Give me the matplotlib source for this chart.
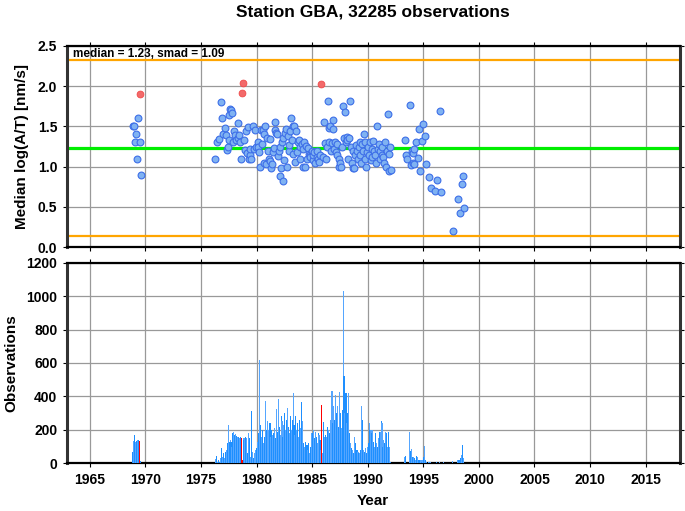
import matplotlib
matplotlib.use("Agg")
import matplotlib.pyplot as plt
import numpy as np

plt.rcParams['font.family'] = ['Liberation Sans', 'DejaVu Sans']
plt.rcParams['font.weight'] = 'bold'

# monthly median log(A/T), regular points
med_year = [1968.85, 1968.95, 1969.05, 1969.14, 1969.23, 1969.32, 1969.53, 1969.65,
            1976.28, 1976.43, 1976.58, 1976.79, 1976.88, 1977.00, 1977.15, 1977.24, 1977.33, 1977.42,
            1977.48, 1977.54, 1977.63, 1977.73, 1977.80, 1977.88,
            1978.00, 1978.08, 1978.17, 1978.29, 1978.37, 1978.44, 1978.53, 1978.59, 1978.83, 1978.92,
            1979.04, 1979.12, 1979.19, 1979.31, 1979.38, 1979.43, 1979.52, 1979.64, 1979.73, 1979.85, 1979.97,
            1980.09, 1980.17, 1980.24, 1980.27, 1980.39, 1980.47, 1980.57, 1980.65, 1980.70, 1980.78, 1980.87, 1980.95,
            1981.04, 1981.08, 1981.17, 1981.25, 1981.29, 1981.41, 1981.47, 1981.53, 1981.65, 1981.70, 1981.78,
            1981.85, 1981.92, 1981.98,
            1982.07, 1982.12, 1982.19, 1982.25, 1982.37, 1982.42, 1982.50, 1982.58, 1982.64, 1982.72, 1982.80,
            1982.88, 1982.95,
            1983.05, 1983.12, 1983.18, 1983.25, 1983.32, 1983.40, 1983.48, 1983.55, 1983.62, 1983.70, 1983.78,
            1983.88, 1983.95,
            1984.05, 1984.14, 1984.22, 1984.30, 1984.37, 1984.45, 1984.55, 1984.62, 1984.70, 1984.78, 1984.85, 1984.95,
            1985.05, 1985.12, 1985.20, 1985.30, 1985.40, 1985.48, 1985.55, 1985.62, 1985.70, 1985.95,
            1986.09, 1986.18, 1986.25, 1986.33, 1986.42, 1986.48, 1986.55, 1986.62, 1986.70, 1986.78, 1986.84,
            1986.92, 1986.98,
            1987.05, 1987.12, 1987.20, 1987.28, 1987.38, 1987.45, 1987.52, 1987.58, 1987.65, 1987.77, 1987.85, 1987.93,
            1988.02, 1988.10, 1988.18, 1988.25, 1988.32, 1988.43, 1988.50, 1988.58, 1988.65, 1988.72, 1988.80,
            1988.88, 1988.95,
            1989.05, 1989.12, 1989.20, 1989.28, 1989.35, 1989.42, 1989.50, 1989.58, 1989.63, 1989.72, 1989.80,
            1989.88, 1989.95,
            1990.05, 1990.12, 1990.20, 1990.28, 1990.35, 1990.42, 1990.50, 1990.58, 1990.65, 1990.72, 1990.83, 1990.90,
            1991.00, 1991.08, 1991.15, 1991.25, 1991.32, 1991.40, 1991.50, 1991.58, 1991.65, 1991.72, 1991.82,
            1991.88, 1991.95, 1992.00, 1992.10,
            1993.38, 1993.47, 1993.50, 1993.77, 1993.90, 1994.00, 1994.05, 1994.10, 1994.15, 1994.20, 1994.37,
            1994.52, 1994.61, 1994.70, 1994.88, 1994.97, 1995.12, 1995.21, 1995.51, 1995.72, 1996.05, 1996.23,
            1996.47, 1996.56, 1997.67, 1998.15, 1998.33, 1998.48, 1998.57, 1998.66]
med_value = [1.50, 1.50, 1.30, 1.40, 1.10, 1.60, 1.30, 0.90,
             1.10, 1.30, 1.34, 1.80, 1.60, 1.40, 1.48, 1.39, 1.21, 1.25,
             1.64, 1.33, 1.72, 1.70, 1.66, 1.31,
             1.44, 1.39, 1.33, 1.54, 1.35, 1.39, 1.31, 1.10, 1.33, 1.21,
             1.44, 1.17, 1.49, 1.10, 1.15, 1.22, 1.10, 1.50, 1.22, 1.45, 1.24,
             1.31, 1.25, 1.18, 0.99, 1.46, 1.28, 1.46, 1.05, 1.40, 1.50, 1.03, 1.35,
             1.20, 1.10, 1.34, 1.07, 0.98, 1.03, 1.18, 1.23, 1.55, 1.46, 1.42,
             1.40, 1.13, 1.20,
             0.88, 1.25, 0.98, 1.30, 0.82, 1.35, 1.08, 1.42, 1.47, 1.00, 1.38,
             1.20, 1.27,
             1.44, 1.60, 1.33, 1.50, 1.16, 1.50, 1.06, 1.44, 1.18, 1.30, 1.33,
             1.25, 1.10,
             1.28, 1.00, 1.22, 1.30, 0.99, 1.26, 1.10, 1.23, 1.16, 1.15, 1.12, 1.20,
             1.08, 1.15, 1.18, 1.05, 1.12, 1.20, 1.10, 1.06, 1.15, 1.12,
             1.56, 1.29, 1.10, 1.25, 1.82, 1.48, 1.30, 1.50, 1.20, 1.29, 1.58,
             1.47, 1.22,
             1.30, 1.18, 1.28, 1.15, 1.10, 0.99, 1.05, 0.99, 1.25, 1.75, 1.35, 1.68,
             1.30, 1.37, 1.33, 1.10, 1.36, 1.81, 1.25, 1.05, 1.20, 0.98, 0.98,
             1.15, 1.27,
             1.20, 1.10, 1.25, 1.30, 1.15, 1.05, 1.28, 1.20, 1.40, 1.10, 1.30,
             0.99, 1.18,
             1.25, 1.15, 1.30, 1.08, 1.22, 1.12, 1.32, 1.20, 1.15, 1.05, 1.50, 1.22,
             1.28, 1.10, 1.20, 1.15, 1.25, 1.12, 1.05, 1.30, 1.00, 1.20, 1.65,
             1.16, 0.95, 1.24, 0.96,
             1.33, 1.14, 1.09, 1.77, 1.02, 1.20, 1.05, 1.17, 1.22, 1.03, 1.30,
             1.11, 1.47, 0.95, 1.32, 1.53, 1.38, 1.03, 0.87, 0.74, 0.70, 0.83,
             1.69, 0.68, 0.20, 0.60, 0.43, 0.79, 0.89, 0.49]

# outlier months (red)
out_year = [1969.50, 1978.68, 1978.77, 1985.82]
out_value = [1.90, 1.91, 2.04, 2.03]

median_all = 1.23
smad = 1.09

# observations per month
count_years = [1968, 1969, 1976, 1977, 1978, 1979, 1980, 1981, 1982, 1983, 1984, 1985, 1986,
               1987, 1988, 1989, 1990, 1991, 1992, 1993, 1994, 1995, 1996, 1997, 1998]
monthly_counts = [
    [0, 0, 0, 0, 0, 0, 0, 0, 0, 0, 66, 134],
    [170, 130, 136, 140, 138, 134, 12, 0, 0, 0, 0, 0],
    [0, 0, 0, 24, 44, 10, 20, 0, 10, 30, 90, 40],
    [60, 30, 70, 80, 120, 226, 130, 140, 130, 100, 180, 190],
    [170, 175, 165, 160, 160, 150, 155, 150, 20, 150, 140, 150],
    [155, 150, 60, 184, 150, 40, 310, 70, 30, 60, 20, 80],
    [90, 130, 180, 620, 230, 160, 200, 120, 160, 374, 200, 250],
    [180, 200, 240, 160, 200, 170, 180, 210, 150, 324, 190, 386],
    [220, 170, 280, 250, 160, 230, 300, 200, 260, 330, 220, 180],
    [280, 200, 260, 420, 230, 170, 280, 200, 240, 160, 260, 210],
    [366, 250, 120, 100, 130, 90, 110, 80, 120, 60, 100, 180],
    [180, 200, 150, 190, 160, 120, 180, 170, 140, 80, 346, 60],
    [246, 160, 170, 160, 220, 200, 180, 260, 200, 432, 240, 340],
    [260, 408, 300, 340, 220, 428, 300, 210, 320, 1030, 524, 300],
    [420, 240, 300, 420, 180, 120, 90, 80, 60, 160, 120, 80],
    [80, 70, 60, 60, 80, 344, 260, 80, 70, 90, 60, 100],
    [120, 240, 200, 200, 180, 200, 130, 100, 180, 120, 100, 150],
    [190, 190, 254, 240, 100, 140, 120, 190, 180, 100, 190, 100],
    [10, 0, 0, 0, 0, 0, 0, 0, 0, 0, 0, 0],
    [0, 0, 0, 40, 44, 0, 0, 0, 0, 185, 74, 84],
    [40, 40, 30, 20, 44, 40, 20, 10, 20, 20, 10, 20],
    [40, 104, 20, 10, 0, 10, 10, 10, 0, 0, 0, 0],
    [0, 0, 10, 0, 0, 10, 0, 0, 0, 10, 0, 0],
    [0, 0, 0, 0, 0, 0, 0, 15, 0, 0, 0, 0],
    [20, 20, 20, 0, 30, 50, 110, 30, 0, 0, 0, 0],
]
red_months = [(1969, 5), (1978, 7), (1978, 8), (1985, 10)]

fig = plt.figure(figsize=(6.85, 5.11), dpi=100)
ax1 = fig.add_axes([0.0978, 0.516, 0.8942, 0.3946])
ax2 = fig.add_axes([0.0978, 0.0934, 0.8942, 0.3925])

xticks = np.arange(1965, 2016, 5)

# top panel
ax1.axhline(median_all, color='#00ee00', lw=2.3, zorder=2)
ax1.axhline(median_all + smad, color='#ffa500', lw=1.6, zorder=2)
ax1.axhline(median_all - smad, color='#ffa500', lw=1.6, zorder=2)
ax1.scatter(med_year, med_value, s=24, facecolor='#7fb2f2', edgecolor='#3d6ee8', lw=0.8, zorder=3)
ax1.scatter(out_year, out_value, s=24, facecolor='#f26a6a', edgecolor='#f04848', lw=0.6, zorder=3)
ax1.text(1963.5, 2.47, 'median = %.2f, smad = %.2f' % (median_all, smad), fontsize=8.5,
         fontweight='bold', va='top', ha='left')
ax1.set_xlim(1962.95, 2018.05)
ax1.set_ylim(0, 2.5)
ax1.set_yticks(np.arange(0, 2.51, 0.5))
ax1.set_yticklabels(['%.1f' % v for v in np.arange(0, 2.51, 0.5)])
ax1.set_xticks(xticks)
ax1.set_xticklabels([])
ax1.set_ylabel('Median log(A/T) [nm/s]', fontsize=11, fontweight='bold', labelpad=6)
ax1.set_title('Station GBA, 32285 observations', fontsize=12.5, fontweight='bold', pad=21)

# bottom panel
bx, bh, bc = [], [], []
for yr, row in zip(count_years, monthly_counts):
    for m, c in enumerate(row):
        if c <= 0:
            continue
        bx.append(yr + (m + 0.5) / 12.0)
        bh.append(c)
        if (yr, m) in red_months:
            bc.append('#ff0000')
        elif m % 2 == 0:
            bc.append('#1e8fff')
        else:
            bc.append('#55a6ff')
red_idx = [i for i, c in enumerate(bc) if c == '#ff0000']
blue_idx = [i for i, c in enumerate(bc) if c != '#ff0000']
ax2.bar([bx[i] for i in blue_idx], [bh[i] for i in blue_idx], width=1.25 / 12.0,
        color=[bc[i] for i in blue_idx], lw=0, zorder=3)
ax2.bar([bx[i] for i in red_idx], [bh[i] for i in red_idx], width=1.1 / 12.0,
        color='#ff0000', lw=0, zorder=4)
ax2.set_xlim(1962.95, 2018.05)
ax2.set_ylim(0, 1200)
ax2.set_yticks(np.arange(0, 1201, 200))
ax2.set_xticks(xticks)
ax2.set_ylabel('Observations', fontsize=11, fontweight='bold', labelpad=6)
ax2.set_xlabel('Year', fontsize=11, fontweight='bold', labelpad=5)

for ax in (ax1, ax2):
    ax.grid(True, color='#999999', lw=0.9, zorder=0)
    ax.set_axisbelow(True)
    ax.tick_params(direction='out', length=3, width=0.8, top=True, right=True,
                   labelsize=10, pad=4)
    for lab in ax.get_xticklabels() + ax.get_yticklabels():
        lab.set_fontweight('bold')
    for side in ('top', 'bottom'):
        ax.spines[side].set_linewidth(1.6)
    for side in ('left', 'right'):
        ax.spines[side].set_linewidth(2.2)
        ax.spines[side].set_color('#333333')

fig.savefig('out.png', dpi=100)
